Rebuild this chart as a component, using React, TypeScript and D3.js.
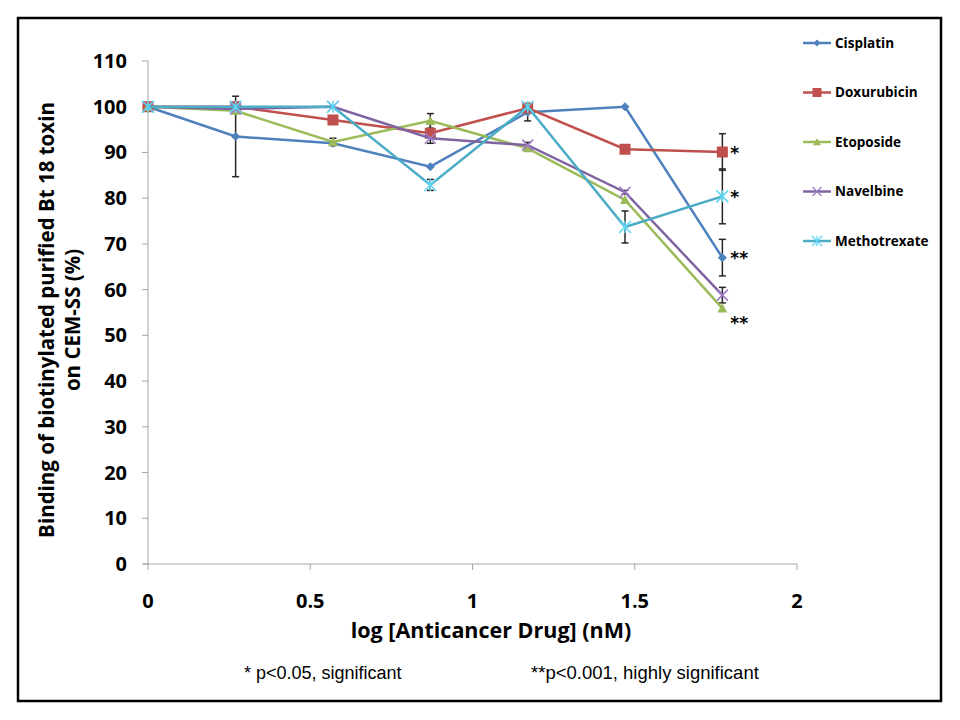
import React from 'react';
import * as d3 from 'd3';

// log concentration points shared by every series
const doses = [0, 0.27, 0.57, 0.87, 1.17, 1.47, 1.77];

const drugNames = ['Cisplatin', 'Doxurubicin', 'Etoposide', 'Navelbine', 'Methotrexate'];
const drugColors = ['#4F81BD', '#C0504D', '#9BBB59', '#8064A2', '#4BACC6'];
const drugMarkers = ['diamond', 'square', 'triangle', 'times', 'star'];

const cisplatin = [100, 93.5, 92.0, 86.9, 98.8, 100, 67.0];
const doxurubicin = [100, 100, 97.1, 94.2, 99.7, 90.7, 90.1];
const etoposide = [100, 99.1, 92.3, 96.9, 90.9, 79.6, 55.9];
const navelbine = [100, 99.5, 100, 93.1, 91.6, 81.3, 58.8];
const methotrexate = [100, 100, 100, 82.9, 100, 73.7, 80.4];

const cisplatinErr = [0, 8.8, 0, 0, 1.9, 0, 4.0];
const doxurubicinErr = [0, 0, 0, 2.2, 0, 0, 4.0];
const etoposideErr = [0, 0, 0.8, 1.6, 0, 0, 0];
const navelbineErr = [0, 0, 0, 0, 0.6, 0.4, 1.7];
const methotrexateErr = [0, 0, 0, 1.2, 0, 3.5, 6.0];

const seriesValues = [cisplatin, doxurubicin, etoposide, navelbine, methotrexate];
const seriesErrors = [cisplatinErr, doxurubicinErr, etoposideErr, navelbineErr, methotrexateErr];

// significance marks at the last dose
const sigLabels = ['**', '*', '**', '', '*'];

const xTicks = [0, 0.5, 1, 1.5, 2];
const yTicks = [0, 10, 20, 30, 40, 50, 60, 70, 80, 90, 100, 110];

const markerPath = (kind: string, s: number) => {
  const h = s / 2;
  switch (kind) {
    case 'diamond':
      return `M0,${-h}L${h},0L0,${h}L${-h},0Z`;
    case 'square':
      return `M${-h},${-h}H${h}V${h}H${-h}Z`;
    case 'triangle':
      return `M0,${-h}L${h},${h * 0.8}L${-h},${h * 0.8}Z`;
    case 'times':
      return `M${-h},${-h}L${h},${h}M${-h},${h}L${h},${-h}`;
    default:
      return `M${-h},${-h}L${h},${h}M${-h},${h}L${h},${-h}M0,${-h}V${h}`;
  }
};

const markerSize = [9, 11, 10, 11, 12];

const App: React.FC = () => {
  const width = 960;
  const height = 720;
  const margin = { left: 148, right: 797, top: 61, bottom: 564 };

  const x = d3.scaleLinear().domain([0, 2]).range([margin.left, margin.right]);
  const y = d3.scaleLinear().domain([0, 110]).range([margin.bottom, margin.top]);

  const line = d3
    .line<number>()
    .x((_, i) => x(doses[i]))
    .y(d => y(d));

  const axisColor = '#A6A6A6';
  const font = "'Open Sans', 'Noto Sans', sans-serif";
  const last = doses.length - 1;

  return (
    <svg
      width={width}
      height={height}
      style={{ position: 'absolute', left: 0, top: 0, background: '#fff' }}
    >
      <rect x={0} y={0} width={width} height={height} fill="#fff" />
      <rect x={18} y={18} width={923} height={683} fill="none" stroke="#000" strokeWidth={2.5} />

      {/* axes */}
      <line x1={x(0)} x2={x(0)} y1={y(110)} y2={y(0)} stroke={axisColor} strokeWidth={1} />
      <line x1={x(0) - 5} x2={x(2)} y1={y(0)} y2={y(0)} stroke={axisColor} strokeWidth={1} />
      {yTicks.map(t => (
        <g key={'y' + t}>
          <line x1={x(0) - 6} x2={x(0)} y1={y(t)} y2={y(t)} stroke={axisColor} />
          <text
            x={127}
            y={y(t)}
            dy="0.35em"
            textAnchor="end"
            fontFamily={font}
            fontWeight="bold"
            fontSize={20}
            fill="#000"
          >
            {t}
          </text>
        </g>
      ))}
      {xTicks.map(t => (
        <g key={'x' + t}>
          <line x1={x(t)} x2={x(t)} y1={y(0)} y2={y(0) + 6} stroke={axisColor} />
          <text
            x={x(t)}
            y={601}
            dy="0.35em"
            textAnchor="middle"
            fontFamily={font}
            fontWeight="bold"
            fontSize={20}
            fill="#000"
          >
            {t}
          </text>
        </g>
      ))}

      {/* axis titles */}
      <text
        x={491}
        y={630}
        dy="0.35em"
        textAnchor="middle"
        fontFamily={font}
        fontWeight="bold"
        fontSize={21.5}
      >
        log [Anticancer Drug] (nM)
      </text>
      <g transform="translate(47,320) rotate(-90)">
        <text x={0} y={0} dy="0.35em" textAnchor="middle" fontFamily={font} fontWeight="bold" fontSize={20.5}>
          Binding of biotinylated purified Bt 18 toxin
        </text>
        <text x={0} y={26} dy="0.35em" textAnchor="middle" fontFamily={font} fontWeight="bold" fontSize={20.5}>
          on CEM-SS (%)
        </text>
      </g>

      {/* error bars */}
      {seriesValues.map((vals, si) =>
        vals.map((v, i) => {
          const e = seriesErrors[si][i];
          if (!e) return null;
          const cx = x(doses[i]);
          return (
            <g key={`e${si}-${i}`} stroke="#262626" strokeWidth={1.5}>
              <line x1={cx} x2={cx} y1={y(v + e)} y2={y(v - e)} />
              <line x1={cx - 3.5} x2={cx + 3.5} y1={y(v + e)} y2={y(v + e)} />
              <line x1={cx - 3.5} x2={cx + 3.5} y1={y(v - e)} y2={y(v - e)} />
            </g>
          );
        })
      )}

      {/* series lines and markers */}
      {seriesValues.map((vals, si) => (
        <g key={'s' + si}>
          <path d={line(vals) || ''} fill="none" stroke={drugColors[si]} strokeWidth={2.5} />
          {vals.map((v, i) => {
            const kind = drugMarkers[si];
            const stroked = kind === 'times' || kind === 'star';
            return (
              <path
                key={i}
                transform={`translate(${x(doses[i])},${y(v)})`}
                d={markerPath(kind, markerSize[si])}
                fill={stroked ? 'none' : drugColors[si]}
                stroke={stroked ? d3.color(drugColors[si])!.brighter(0.6).toString() : 'none'}
                strokeWidth={stroked ? 1.5 : 0}
              />
            );
          })}
        </g>
      ))}

      {/* significance asterisks */}
      {seriesValues.map((vals, si) =>
        sigLabels[si] ? (
          <text
            key={'sig' + si}
            x={x(doses[last]) + 8}
            y={si === 2 ? y(vals[last]) + 8 : y(vals[last]) - 6}
            dy="0.75em"
            fontFamily="'DejaVu Sans', sans-serif"
            fontWeight="bold"
            fontSize={17}
            fill="#000"
          >
            {sigLabels[si]}
          </text>
        ) : null
      )}

      {/* legend */}
      {drugNames.map((name, i) => {
        const ly = 43 + i * 49.5;
        const kind = drugMarkers[i];
        const stroked = kind === 'times' || kind === 'star';
        return (
          <g key={'l' + name}>
            <line x1={803} x2={831} y1={ly} y2={ly} stroke={drugColors[i]} strokeWidth={2.5} />
            <path
              transform={`translate(817,${ly})`}
              d={markerPath(kind, markerSize[i] - 2)}
              fill={stroked ? 'none' : drugColors[i]}
              stroke={stroked ? d3.color(drugColors[i])!.brighter(0.6).toString() : 'none'}
              strokeWidth={stroked ? 1.3 : 0}
            />
            <text x={835} y={ly} dy="0.35em" fontFamily={font} fontWeight="bold" fontSize={13.5}>
              {name}
            </text>
          </g>
        );
      })}

      {/* footnotes */}
      <text x={244} y={673} dy="0.35em" fontFamily="'Liberation Sans Narrow', 'Liberation Sans', sans-serif" fontSize={18}>
        * p&lt;0.05, significant
      </text>
      <text x={531} y={673} dy="0.35em" fontFamily="'Liberation Sans Narrow', 'Liberation Sans', sans-serif" fontSize={18.5}>
        **p&lt;0.001, highly significant
      </text>
    </svg>
  );
};

export default App;
